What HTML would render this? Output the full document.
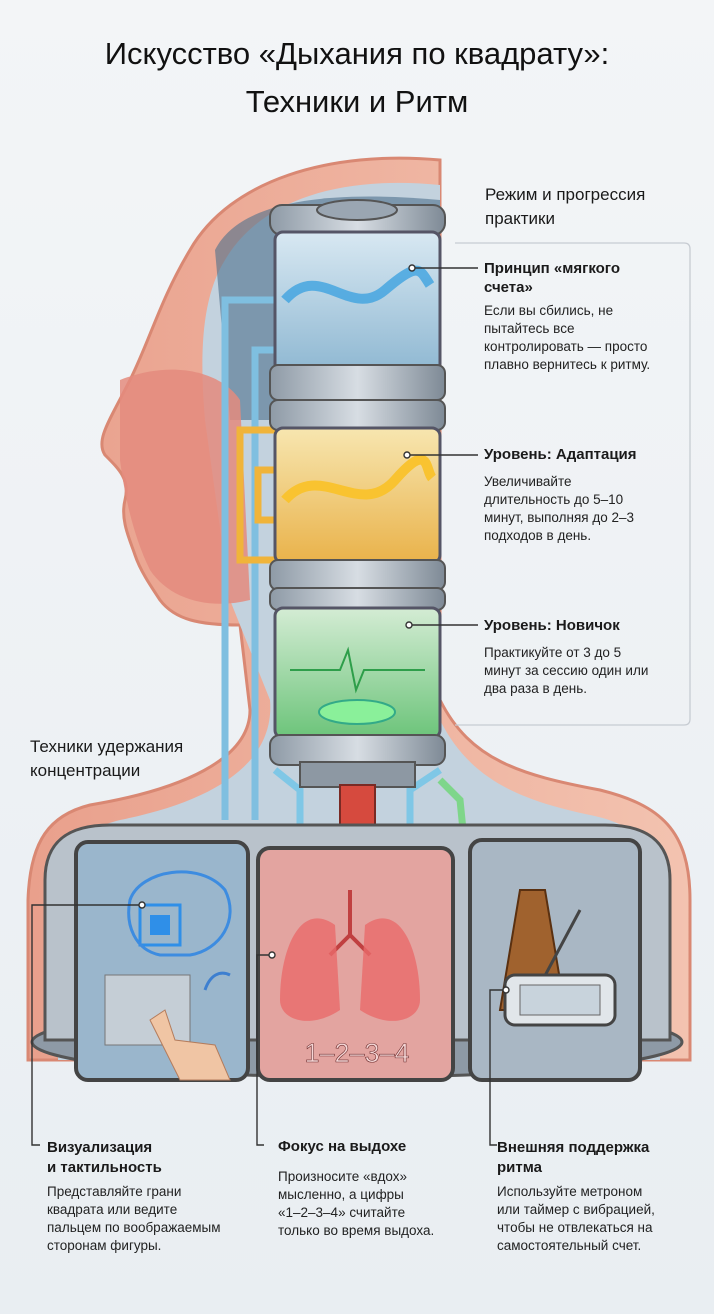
<!DOCTYPE html>
<html><head><meta charset="utf-8"><style>
html,body{margin:0;padding:0}
body{width:714px;height:1314px;overflow:hidden;background:linear-gradient(#f3f5f7,#e9eef2);font-family:"Liberation Sans","DejaVu Sans",sans-serif;position:relative}
.t{position:absolute;color:#1a1a1a}
h1{position:absolute;left:0;top:30px;width:714px;margin:0;text-align:center;font-weight:400;font-size:31px;line-height:48px;color:#111}
.h{font-weight:700;font-size:15px}
.p{font-size:13.5px;line-height:18px;color:#222}
</style></head><body>
<svg width="714" height="1314" style="position:absolute;left:0;top:0">
<defs>
<linearGradient id="sk" x1="0" x2="1"><stop offset="0" stop-color="#e9a08c"/><stop offset="1" stop-color="#f3c3b0"/></linearGradient>
<linearGradient id="bl" x1="0" y1="0" x2="0" y2="1"><stop offset="0" stop-color="#d8e8f2"/><stop offset="1" stop-color="#8fb8d2"/></linearGradient>
<linearGradient id="yl" x1="0" y1="0" x2="0" y2="1"><stop offset="0" stop-color="#f7e6b0"/><stop offset="1" stop-color="#e9b24a"/></linearGradient>
<linearGradient id="gr" x1="0" y1="0" x2="0" y2="1"><stop offset="0" stop-color="#d4ecd4"/><stop offset="1" stop-color="#6cc47a"/></linearGradient>
<linearGradient id="mt" x1="0" x2="1"><stop offset="0" stop-color="#8e9aa6"/><stop offset=".5" stop-color="#d7dde3"/><stop offset="1" stop-color="#7e8a96"/></linearGradient>
</defs>
<!-- head/body silhouette -->
<path d="M440 160 C330 150 230 180 190 250 C160 300 150 340 130 380 C110 420 95 440 105 455 C120 470 130 480 125 500 C120 520 130 540 135 555 C140 570 150 585 160 600 C175 620 200 625 240 625 L250 710 C250 760 180 790 90 805 C50 815 30 840 28 900 L28 1060 L690 1060 L690 900 C690 830 660 805 600 790 C520 775 470 760 440 700 Z" fill="url(#sk)" stroke="#d98873" stroke-width="3"/>
<path d="M440 185 C340 175 260 200 225 260 C200 300 200 360 205 420 L230 600 L270 700 C275 760 220 800 120 820 C80 830 60 850 58 900 L58 1060 L660 1060 L660 900 C660 850 640 825 590 815 C520 800 470 780 440 720 Z" fill="#c3d2de"/>
<path d="M215 250 C240 200 330 190 440 200 L440 420 L230 420 Z" fill="#4d6f8c" opacity=".6"/>
<path d="M120 380 C170 360 220 370 240 400 L250 600 C210 610 170 600 150 570 C135 540 125 500 120 460 Z" fill="#e48b7e" opacity=".85"/>
<!-- right bracket -->
<path d="M455 243 L684 243 Q690 243 690 249 L690 719 Q690 725 684 725 L455 725" fill="none" stroke="#c7ccd2" stroke-width="1.3"/>
<!-- pipes -->
<g fill="none" stroke-width="7">
<path d="M275 300 L225 300 L225 820" stroke="#7fbfe0"/>
<path d="M275 350 L255 350 L255 820" stroke="#7fbfe0"/>
<path d="M275 430 L240 430 L240 560 L275 560" stroke="#f0b43a"/>
<path d="M275 470 L258 470 L258 520 L275 520" stroke="#f0b43a"/>
<path d="M440 770 L410 790 L410 840" stroke="#7fc7e6"/>
<path d="M275 770 L300 790 L300 840" stroke="#7fc7e6"/>
<path d="M440 780 L460 800 L465 850" stroke="#7ed68a"/>
</g>
<!-- cylinders -->
<rect x="270" y="205" width="175" height="30" rx="12" fill="url(#mt)" stroke="#555" stroke-width="2"/>
<ellipse cx="357" cy="210" rx="40" ry="10" fill="#9aa6b2" stroke="#555" stroke-width="2"/>
<rect x="275" y="232" width="165" height="140" rx="8" fill="url(#bl)" stroke="#556" stroke-width="3"/>
<path d="M285 300 C320 260 350 320 385 290 S420 270 430 285" stroke="#3ea2e0" stroke-width="10" fill="none" opacity=".8"/>
<rect x="270" y="365" width="175" height="35" rx="8" fill="url(#mt)" stroke="#555" stroke-width="2"/>
<rect x="270" y="400" width="175" height="30" rx="8" fill="url(#mt)" stroke="#555" stroke-width="2"/>
<rect x="275" y="428" width="165" height="135" rx="8" fill="url(#yl)" stroke="#556" stroke-width="3"/>
<path d="M285 500 C320 460 360 520 395 480 S425 470 432 478" stroke="#f9c330" stroke-width="10" fill="none"/>
<rect x="270" y="560" width="175" height="30" rx="8" fill="url(#mt)" stroke="#555" stroke-width="2"/>
<rect x="270" y="588" width="175" height="22" rx="8" fill="url(#mt)" stroke="#555" stroke-width="2"/>
<rect x="275" y="608" width="165" height="130" rx="8" fill="url(#gr)" stroke="#556" stroke-width="3"/>
<path d="M290 670 L340 670 L348 650 L356 690 L364 670 L425 670" stroke="#2e9e4a" stroke-width="2" fill="none"/>
<ellipse cx="357" cy="712" rx="38" ry="12" fill="#8af09a" stroke="#3a8" stroke-width="2"/>
<rect x="270" y="735" width="175" height="30" rx="10" fill="url(#mt)" stroke="#555" stroke-width="2"/>
<rect x="300" y="762" width="115" height="25" fill="#8d98a3" stroke="#555" stroke-width="2"/>
<rect x="340" y="785" width="35" height="60" fill="#d64a3e" stroke="#7a2a24" stroke-width="2"/>
<!-- platform -->
<ellipse cx="357" cy="1042" rx="325" ry="35" fill="#8e9aa6" stroke="#555" stroke-width="3"/>
<path d="M45 880 C45 840 70 825 110 825 L605 825 C645 825 670 840 670 880 L670 1040 L45 1040 Z" fill="#b9c2cb" stroke="#555" stroke-width="3"/>
<rect x="76" y="842" width="172" height="238" rx="12" fill="#9ab6cc" stroke="#444" stroke-width="4"/>
<rect x="258" y="848" width="195" height="232" rx="12" fill="#e3a4a0" stroke="#444" stroke-width="4"/>
<rect x="470" y="840" width="170" height="240" rx="12" fill="#a9b7c4" stroke="#444" stroke-width="4"/>
<!-- left panel content -->
<rect x="140" y="905" width="40" height="40" fill="none" stroke="#2f8fe8" stroke-width="3"/>
<rect x="150" y="915" width="20" height="20" fill="#2f8fe8"/>
<path d="M130 900 C140 870 200 860 225 890 C240 920 220 950 190 955 L160 955 C135 950 125 925 130 900Z" fill="none" stroke="#3d8ce0" stroke-width="3"/>
<rect x="105" y="975" width="85" height="70" fill="#c5ced6" stroke="#777"/>
<path d="M150 1020 L165 1010 L175 1040 L215 1045 L230 1080 L180 1080 Z" fill="#f0c5a4" stroke="#b47c5c"/>
<path d="M205 990 C210 975 220 970 230 975" stroke="#3d7fd0" stroke-width="3" fill="none"/>
<!-- lungs -->
<path d="M350 890 L350 935 M350 935 L330 955 M350 935 L370 955" stroke="#c04040" stroke-width="4" fill="none"/>
<path d="M335 925 C300 900 280 950 280 1000 C280 1020 310 1030 340 1010 Z" fill="#e86a6a" opacity=".8"/>
<path d="M365 925 C400 900 420 950 420 1000 C420 1020 390 1030 360 1010 Z" fill="#e86a6a" opacity=".8"/>
<text x="357" y="1062" text-anchor="middle" font-family="Liberation Sans" font-size="27" fill="#f5d6d6" stroke="#703030" stroke-width=".6">1–2–3–4</text>
<!-- metronome -->
<path d="M500 1010 L520 890 L545 890 L565 1010 Z" fill="#a0622e" stroke="#5a3010" stroke-width="2"/>
<line x1="532" y1="1000" x2="580" y2="910" stroke="#444" stroke-width="3"/>
<rect x="505" y="975" width="110" height="50" rx="10" fill="#e1e6ea" stroke="#444" stroke-width="3"/>
<rect x="520" y="985" width="80" height="30" fill="#c8d3dc" stroke="#666"/>
<!-- callout lines -->
<g stroke="#333" stroke-width="1.4" fill="none">
<path d="M415 268 L478 268"/><circle cx="412" cy="268" r="3" fill="#fff"/>
<path d="M410 455 L478 455"/><circle cx="407" cy="455" r="3" fill="#fff"/>
<path d="M412 625 L478 625"/><circle cx="409" cy="625" r="3" fill="#fff"/>
<path d="M40 1145 L32 1145 L32 905 L140 905"/><circle cx="142" cy="905" r="3" fill="#fff"/>
<path d="M264 1145 L257 1145 L257 955 L270 955"/><circle cx="272" cy="955" r="3" fill="#fff"/>
<path d="M497 1145 L490 1145 L490 990 L505 990"/><circle cx="506" cy="990" r="3" fill="#fff"/>
</g>
</svg>
<h1>Искусство «Дыхания по квадрату»:<br>Техники и Ритм</h1>
<div class="t" style="left:485px;top:183px;font-size:17px;line-height:24px">Режим и прогрессия<br>практики</div>
<div class="t h" style="left:484px;top:259px;line-height:19px">Принцип «мягкого<br>счета»</div>
<div class="t p" style="left:484px;top:302px">Если вы сбились, не<br>пытайтесь все<br>контролировать — просто<br>плавно вернитесь к ритму.</div>
<div class="t h" style="left:484px;top:446px">Уровень: Адаптация</div>
<div class="t p" style="left:484px;top:473px">Увеличивайте<br>длительность до 5–10<br>минут, выполняя до 2–3<br>подходов в день.</div>
<div class="t h" style="left:484px;top:617px">Уровень: Новичок</div>
<div class="t p" style="left:484px;top:644px">Практикуйте от 3 до 5<br>минут за сессию один или<br>два раза в день.</div>
<div class="t" style="left:30px;top:735px;font-size:17px;line-height:24px">Техники удержания<br>концентрации</div>
<div class="t h" style="left:47px;top:1138px;line-height:20px">Визуализация<br>и тактильность</div>
<div class="t p" style="left:47px;top:1183px">Представляйте грани<br>квадрата или ведите<br>пальцем по воображаемым<br>сторонам фигуры.</div>
<div class="t h" style="left:278px;top:1138px">Фокус на выдохе</div>
<div class="t p" style="left:278px;top:1168px">Произносите «вдох»<br>мысленно, а цифры<br>«1–2–3–4» считайте<br>только во время выдоха.</div>
<div class="t h" style="left:497px;top:1138px;line-height:20px">Внешняя поддержка<br>ритма</div>
<div class="t p" style="left:497px;top:1183px">Используйте метроном<br>или таймер с вибрацией,<br>чтобы не отвлекаться на<br>самостоятельный счет.</div>
</body></html>
